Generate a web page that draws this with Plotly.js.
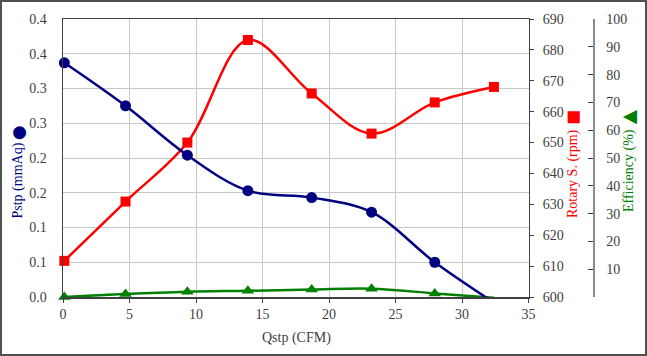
<!DOCTYPE html>
<html>
<head>
<meta charset="utf-8">
<script src="https://cdn.plot.ly/plotly-3.0.1.min.js"></script>
<style>
html,body{margin:0;padding:0;background:#fff;}
#wrap{position:relative;width:647px;height:356px;}
#chart{width:647px;height:356px;}
#frame{position:absolute;left:0;top:0;width:647px;height:356px;box-sizing:border-box;border:2px solid #505050;pointer-events:none;}
</style>
</head>
<body>
<div id="wrap"><div id="chart"></div><div id="frame"></div></div>
<script>
// Data
const qstp = [0.1, 4.7, 9.35, 13.9, 18.7, 23.2, 27.95, 32.4];
const pstp = [0.337, 0.275, 0.204, 0.153, 0.143, 0.122, 0.050, -0.008];
const rpm = [611.7, 630.9, 650.0, 683.2, 665.9, 652.9, 663.0, 668.0];
const efficiency = [0.0, 1.1, 1.9, 2.25, 2.7, 3.0, 1.3, -0.3];

const pstpTickVals = [0, 0.05, 0.1, 0.15, 0.2, 0.25, 0.3, 0.35, 0.4];
const pstpTickText = ['0.0', '0.1', '0.1', '0.2', '0.2', '0.3', '0.3', '0.4', '0.4'];
const rpmTickVals = [600, 610, 620, 630, 640, 650, 660, 670, 680, 690];
const effTickVals = [10, 20, 30, 40, 50, 60, 70, 80, 90, 100];
const xTickVals = [0, 5, 10, 15, 20, 25, 30, 35];

const FONT = 'Liberation Serif, Times New Roman, serif';
const TICKC = '#404040';
const sizeFor = (vals, s) => vals.map(v => v < 0 ? 0 : s);

const traces = [
  {x: qstp, y: rpm, yaxis: 'y', type: 'scatter', mode: 'lines+markers',
   line: {color: '#FF0000', width: 2.5, shape: 'spline', smoothing: 1},
   marker: {symbol: 'square', size: 10, color: '#FF0000', opacity: 1, line: {width: 0}}, cliponaxis: false},
  {x: qstp, y: efficiency, yaxis: 'y2', type: 'scatter', mode: 'lines+markers',
   line: {color: '#008000', width: 2.5, shape: 'spline', smoothing: 1},
   marker: {symbol: 'triangle-up', size: sizeFor(efficiency, 11), sizemode: 'diameter', sizeref: 1,
            color: '#008000', opacity: 1, line: {width: 0}}, cliponaxis: false},
  {x: qstp, y: pstp, yaxis: 'y3', type: 'scatter', mode: 'lines+markers',
   line: {color: '#000080', width: 2.5, shape: 'spline', smoothing: 1},
   marker: {symbol: 'circle', size: sizeFor(pstp, 11), sizemode: 'diameter', sizeref: 1,
            color: '#000080', opacity: 1, line: {width: 0}}, cliponaxis: false}
];

// pixel -> paper helpers (plot area: x 63..593, y 19..297)
const px = v => (v - 63) / 530;
const py = v => (297 - v) / 278;

function label(text, x, y, color, size, angle) {
  return {text: text, xref: 'paper', yref: 'paper', x: px(x), y: py(y),
          xanchor: 'center', yanchor: 'middle', showarrow: false, textangle: angle || 0,
          font: {family: FONT, size: size, color: color}};
}

const layout = {
  width: 647, height: 356,
  margin: {l: 63, r: 54, t: 19, b: 59},
  paper_bgcolor: '#fff', plot_bgcolor: '#fff',
  showlegend: false,
  font: {family: FONT, size: 14, color: TICKC},
  xaxis: {
    domain: [0, 465.5 / 530], range: [0, 35], tickvals: xTickVals,
    showgrid: true, gridcolor: '#c8c8c8', gridwidth: 1,
    showline: true, linecolor: '#404040', linewidth: 1.5, mirror: true,
    ticks: 'outside', ticklen: 4, tickcolor: '#404040',
    zeroline: false, tickfont: {family: FONT, size: 14, color: TICKC}
  },
  yaxis: {
    range: [600, 690], tickvals: rpmTickVals, side: 'right', anchor: 'x',
    showgrid: false, zeroline: false,
    showline: true, linecolor: '#404040', linewidth: 1.5,
    ticks: 'outside', ticklen: 4, tickcolor: '#404040', ticklabelstandoff: 6,
    tickfont: {family: FONT, size: 14, color: TICKC}
  },
  yaxis2: {
    range: [0, 100], tickvals: effTickVals, overlaying: 'y', side: 'right',
    anchor: 'free', position: 1,
    showgrid: false, zeroline: false,
    showline: true, linecolor: '#8a8a8a', linewidth: 1.5,
    ticks: 'inside', ticklen: 5, tickcolor: '#404040', ticklabelstandoff: 9,
    tickfont: {family: FONT, size: 14, color: TICKC}
  },
  yaxis3: {
    range: [0, 0.4], tickvals: pstpTickVals, ticktext: pstpTickText,
    overlaying: 'y', side: 'left', anchor: 'x',
    showgrid: true, gridcolor: '#c8c8c8', gridwidth: 1, zeroline: false,
    showline: true, linecolor: '#404040', linewidth: 1.5,
    ticks: '', ticklabelstandoff: 12,
    tickfont: {family: FONT, size: 14, color: TICKC}
  },
  annotations: [
    label('Qstp (CFM)', 296, 338, TICKC, 14, 0),
    label('Pstp (mmAq)', 18, 180.5, '#000080', 14, -90),
    label('●', 17, 133, '#000080', 30, -90),
    label('Rotary S. (rpm)', 572.5, 173.5, '#FF0000', 14, -90),
    label('■', 572, 118, '#FF0000', 25, -90),
    label('Efficiency (%)', 629, 171, '#008000', 14, -90),
    label('▲', 628.5, 117.5, '#008000', 24, -90)
  ]
};

Plotly.newPlot('chart', traces, layout, {displayModeBar: false, staticPlot: true});
</script>
</body>
</html>
